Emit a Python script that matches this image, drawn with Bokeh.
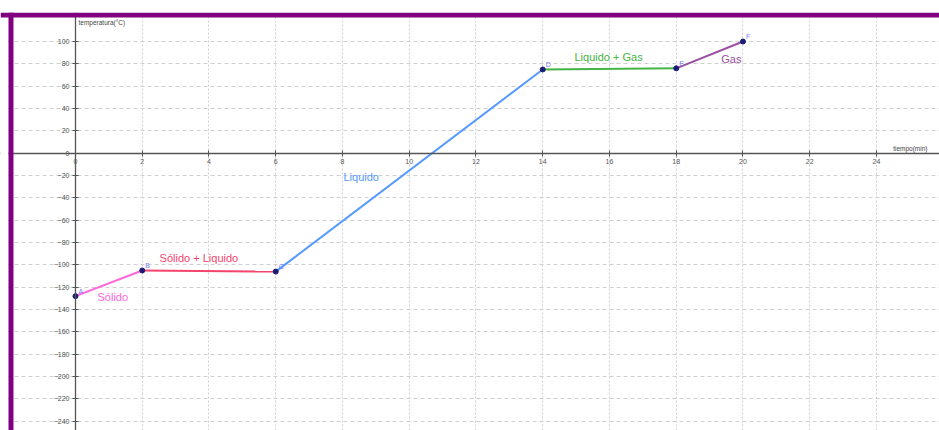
from bokeh.plotting import figure
from bokeh.models import Range1d, BoxAnnotation, FixedTicker, Label, ColumnDataSource
from bokeh.embed import file_html
from bokeh.resources import INLINE
from bokeh.core.properties import value

# ---- data ----
time_min = [0, 2, 6, 14, 18, 20]
temp_c = [-128, -105, -106, 75, 76, 100]
point_names = ["A", "B", "C", "D", "E", "F"]

phase_names = ["Sólido", "Sólido + Liquido", "Liquido", "Liquido + Gas", "Gas"]
phase_colors = ["#ff66dd", "#f4436c", "#5599ff", "#44b444", "#9b50a4"]
phase_label_x = [0.66, 2.52, 8.03, 14.95, 19.35]
phase_label_y = [-128.5, -94, -21.7, 86, 84]

x_ticks = list(range(0, 26, 2))
y_ticks = list(range(-240, 101, 20))

x_title = "tiempo(min)"
y_title = "temperatura(°C)"

FONT = "Liberation Sans"

p = figure(width=939, height=430, output_backend="svg", toolbar_location=None,
           x_range=Range1d(-2.247, 25.888), y_range=Range1d(-248.3, 126.0),
           min_border_left=0, min_border_right=0, min_border_top=12, min_border_bottom=0)
p.outline_line_color = None
p.background_fill_color = "white"
p.border_fill_color = "white"

# axes at the origin
for ax in (p.xaxis, p.yaxis):
    ax.fixed_location = 0
    ax.axis_line_color = "#555555"
    ax.axis_line_width = 1.3
    ax.major_tick_line_color = "#555555"
    ax.major_tick_in = 3
    ax.major_tick_out = 3
    ax.minor_tick_line_color = None
    ax.major_label_text_font = FONT
    ax.major_label_text_font_size = "7px"
    ax.major_label_text_color = "#555555"
    ax.major_label_standoff = 3
p.xaxis.ticker = FixedTicker(ticks=x_ticks)
p.yaxis.ticker = FixedTicker(ticks=y_ticks)

p.xgrid.ticker = FixedTicker(ticks=x_ticks)
p.ygrid.ticker = FixedTicker(ticks=y_ticks)
p.xgrid.grid_line_color = "#cfcfcf"
p.xgrid.grid_line_dash = "2 2"
p.ygrid.grid_line_color = "#cfcfcf"
p.ygrid.grid_line_dash = "4 3"

# segments
for i in range(len(time_min) - 1):
    p.line(time_min[i:i + 2], temp_c[i:i + 2], line_color=phase_colors[i], line_width=2)

p.scatter(time_min, temp_c, size=5, fill_color="#1c1c78", line_color="#1c1c78")

pts = ColumnDataSource(dict(x=time_min, y=temp_c, t=point_names))
p.text(x="x", y="y", text="t", source=pts, x_offset=3, y_offset=-5,
       text_font=value(FONT), text_font_size="7px", text_color="#7a7aff",
       text_baseline="middle", text_align="left")

phases = ColumnDataSource(dict(x=phase_label_x, y=phase_label_y, t=phase_names, c=phase_colors))
p.text(x="x", y="y", text="t", source=phases, text_color="c",
       text_font=value(FONT), text_font_size="11px",
       text_baseline="middle", text_align="left")

p.add_layout(Label(x=0.09, y=117, text=y_title, text_font=FONT, text_font_size="6.5px",
                   text_color="#444444", text_baseline="middle"))
p.add_layout(Label(x=24.5, y=4.2, text=x_title, text_font=FONT, text_font_size="6.5px",
                   text_color="#444444", text_baseline="middle"))

# white page strip left of the frame, then purple frame (top and left)
p.add_layout(BoxAnnotation(right=-2.0075, fill_color="white", fill_alpha=1.0, line_alpha=0))
p.add_layout(BoxAnnotation(bottom=121.5, fill_color="#800080", fill_alpha=1.0, line_alpha=0))
p.add_layout(BoxAnnotation(left=-2.0075, right=-1.858, fill_color="#800080", fill_alpha=1.0, line_alpha=0))

open("out.html", "w").write(file_html(p, INLINE))
